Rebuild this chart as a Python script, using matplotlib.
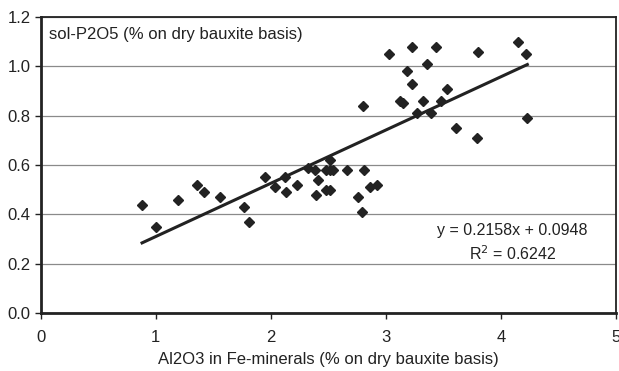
import numpy as np
import matplotlib.pyplot as plt

plt.rcParams['font.family'] = ['Liberation Sans', 'DejaVu Sans']

# Al2O3 in Fe-minerals vs sol-P2O5 (% on dry bauxite basis)
al2o3 = [0.88, 1.00, 1.19, 1.36, 1.42, 1.56, 1.77, 1.81, 1.95, 2.04,
         2.12, 2.13, 2.23, 2.32, 2.38, 2.41, 2.39, 2.48, 2.51, 2.54,
         2.51, 2.48, 2.51, 2.66, 2.81, 2.76, 2.79, 2.86, 2.92, 2.80,
         3.03, 3.23, 3.44, 3.80, 4.15, 4.22, 3.36, 3.18, 3.23, 3.53,
         3.12, 3.15, 3.32, 3.48, 3.27, 3.39, 3.61, 3.79, 4.23]
p2o5 = [0.44, 0.35, 0.46, 0.52, 0.49, 0.47, 0.43, 0.37, 0.55, 0.51,
        0.55, 0.49, 0.52, 0.59, 0.58, 0.54, 0.48, 0.58, 0.58, 0.58,
        0.62, 0.50, 0.50, 0.58, 0.58, 0.47, 0.41, 0.51, 0.52, 0.84,
        1.05, 1.08, 1.08, 1.06, 1.10, 1.05, 1.01, 0.98, 0.93, 0.91,
        0.86, 0.85, 0.86, 0.86, 0.81, 0.81, 0.75, 0.71, 0.79]

slope, intercept, r2 = 0.2158, 0.0948, 0.6242

fig = plt.figure(figsize=(6.19, 3.71), dpi=100)
ax = fig.add_axes([0.066, 0.156, 0.929, 0.798])

ax.set_xlim(0, 5)
ax.set_ylim(0, 1.2)
ax.set_xticks([0, 1, 2, 3, 4, 5])
ax.set_yticks(np.arange(0, 1.21, 0.2))
ax.set_yticklabels(['%.1f' % v for v in np.arange(0, 1.21, 0.2)])
ax.grid(axis='y', color='#8a8a8a', linewidth=0.9)
ax.set_axisbelow(True)

for side in ['left', 'bottom']:
    ax.spines[side].set_linewidth(2.0)
    ax.spines[side].set_color('#222222')
for side in ['top', 'right']:
    ax.spines[side].set_linewidth(1.3)
    ax.spines[side].set_color('#222222')

ax.tick_params(axis='both', labelsize=12, colors='#222222', length=4, width=1)
ax.tick_params(axis='x', pad=8)

ax.plot(al2o3, p2o5, 'D', color='#222222', markersize=5.5, linestyle='none')

xl = np.array([min(al2o3), max(al2o3)])
ax.plot(xl, slope * xl + intercept, color='#222222', linewidth=2.2)

ax.text(0.015, 0.94, 'sol-P2O5 (% on dry bauxite basis)', transform=ax.transAxes,
        fontsize=12, color='#222222', va='center', ha='left')
ax.text(4.1, 0.336, 'y = %.4fx + %.4f' % (slope, intercept), fontsize=11.5,
        color='#222222', ha='center', va='center')
ax.text(4.1, 0.243, 'R$^2$ = %.4f' % r2, fontsize=11.5,
        color='#222222', ha='center', va='center')

ax.set_xlabel('Al2O3 in Fe-minerals (% on dry bauxite basis)', fontsize=12,
              color='#222222', labelpad=5)

fig.savefig('out.png', dpi=100)
